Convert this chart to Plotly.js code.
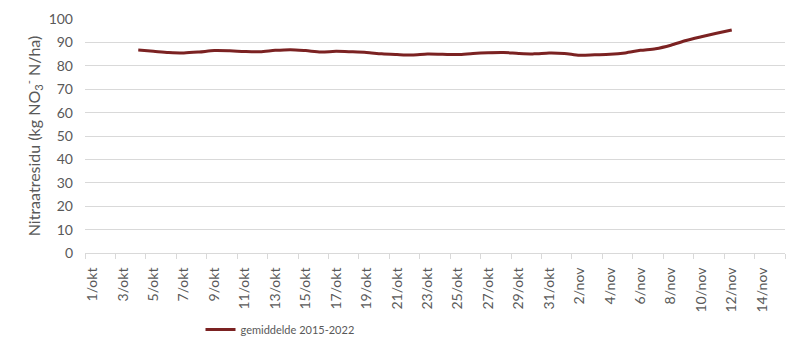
<!DOCTYPE html>
<html><head><meta charset="utf-8">
<script src="https://cdn.plot.ly/plotly-3.0.1.min.js"></script>
<style>body{margin:0;background:#fff}#chart{width:805px;height:356px}</style>
</head><body><div id="chart"></div>
<script>
const days = [];
for (let d = 1; d <= 31; d++) days.push(d + "/okt");
for (let d = 1; d <= 15; d++) days.push(d + "/nov");
const seriesDays = ["4/okt","5/okt","6/okt","7/okt","8/okt","9/okt","10/okt","11/okt","12/okt","13/okt","14/okt","15/okt","16/okt","17/okt","18/okt","19/okt","20/okt","21/okt","22/okt","23/okt","24/okt","25/okt","26/okt","27/okt","28/okt","29/okt","30/okt","31/okt","1/nov","2/nov","3/nov","4/nov","5/nov","6/nov","7/nov","8/nov","9/nov","10/nov","11/nov","12/nov"];
const gemiddelde = [86.7,86.2,85.7,85.5,85.9,86.5,86.4,86.1,86.0,86.6,86.9,86.5,85.9,86.2,86.0,85.7,85.1,84.8,84.6,85.0,84.9,84.8,85.3,85.6,85.7,85.3,85.1,85.5,85.3,84.5,84.7,84.9,85.5,86.6,87.3,88.8,90.8,92.4,93.9,95.3];
const tickLabels = days.filter((_, i) => i % 2 === 0);
const seriesName = "gemiddelde 2015-2022";

const xIdx = seriesDays.map(d => days.indexOf(d));
const tickIdx = tickLabels.map(d => days.indexOf(d));
const font = "Lato, 'Open Sans', sans-serif";

Plotly.newPlot("chart", [{
  x: xIdx, y: gemiddelde, type: "scatter", mode: "lines", name: seriesName,
  line: {color: "#7b2222", width: 3, shape: "spline", smoothing: 0.8}
}], {
  width: 805, height: 356,
  margin: {l: 85, r: 20, t: 18.5, b: 102.7, autoexpand: false},
  paper_bgcolor: "#fff", plot_bgcolor: "#fff",
  font: {family: font, color: "#595959", size: 13},
  xaxis: {
    range: [-0.5, days.length - 0.5], tickmode: "array", tickvals: tickIdx, ticktext: tickLabels,
    tickangle: -90, ticks: "", showgrid: false, zeroline: false, automargin: false,
    showline: true, linecolor: "#d9d9d9", linewidth: 1,
    ticklabelstandoff: 8,
    minor: {tick0: -0.5, dtick: 2, ticks: "outside", ticklen: 5, tickcolor: "#d9d9d9", showgrid: false},
    tickfont: {family: font, size: 14, color: "#595959"}
  },
  yaxis: {
    range: [0, 100], dtick: 10, showgrid: true, gridcolor: "#d9d9d9", gridwidth: 1,
    zeroline: false, showline: false, ticks: "", ticklabelstandoff: 11, automargin: false,
    tickfont: {family: font, size: 14, color: "#595959"},
    title: {text: "Nitraatresidu (kg NO<sub>3</sub><sup>-</sup> N/ha)", font: {family: font, size: 16, color: "#595959"}, standoff: 4}
  },
  showlegend: true,
  legend: {orientation: "h", x: 0.165, xanchor: "left", y: -0.327, yanchor: "middle",
    font: {family: font, size: 11, color: "#595959"}, itemwidth: 30}
}, {displayModeBar: false});
</script></body></html>
